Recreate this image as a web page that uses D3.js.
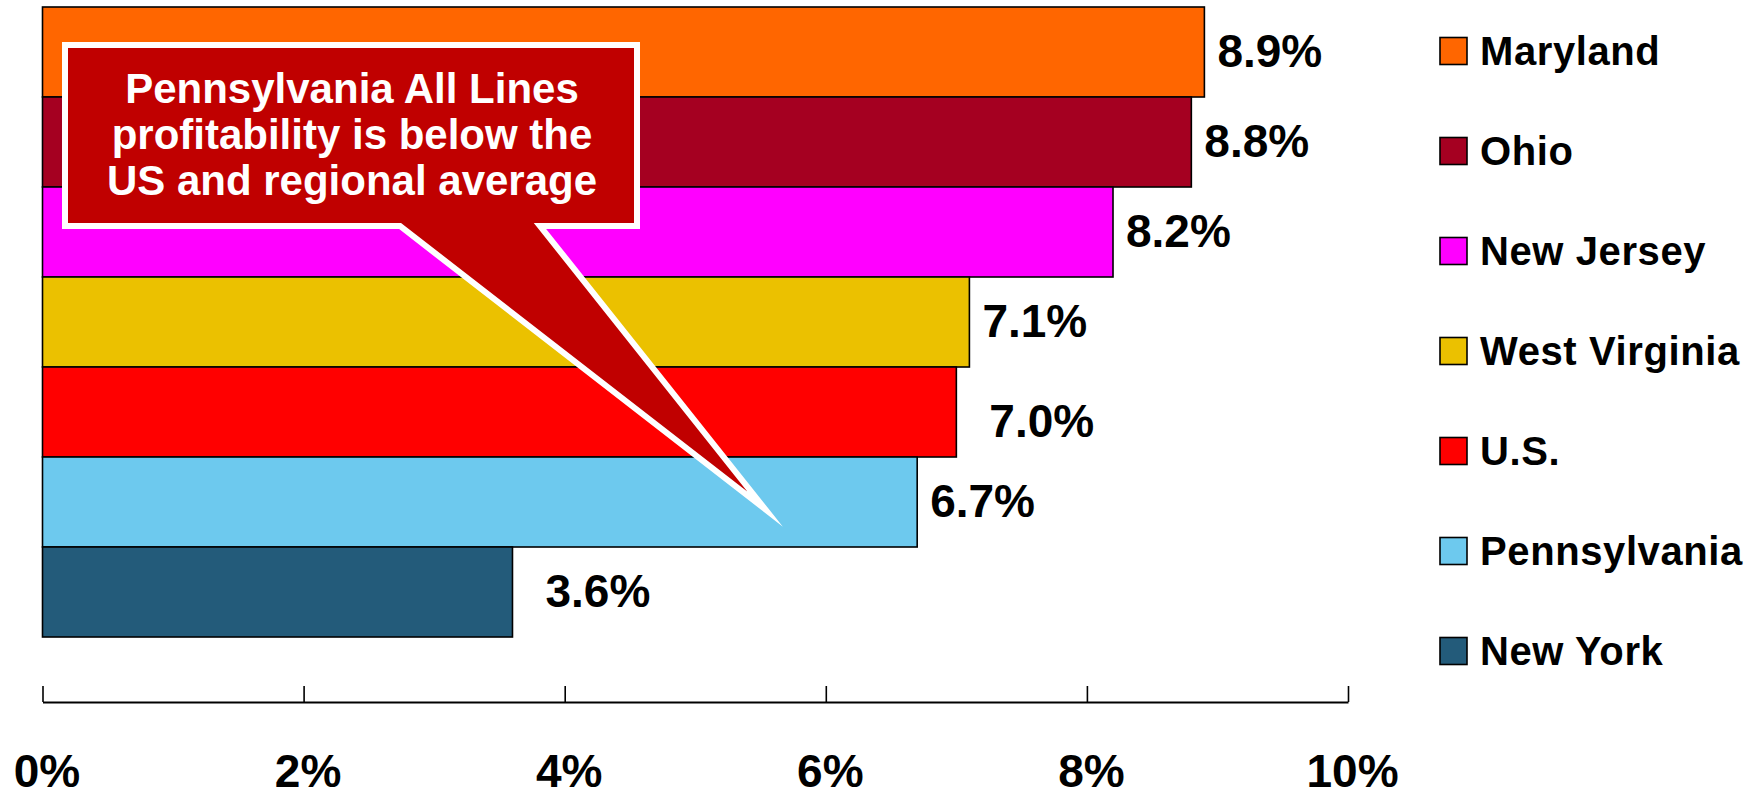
<!DOCTYPE html>
<html>
<head>
<meta charset="utf-8">
<script src="https://cdn.jsdelivr.net/npm/d3@7"></script>
<style>
  html, body { margin: 0; padding: 0; background: #fff; }
  svg { display: block; }
  text { font-family: Arial, "Liberation Sans", sans-serif; font-weight: bold; }
</style>
</head>
<body>
<svg id="chart" width="1762" height="797"></svg>
<script>
// Profitability by state (All Lines), percent
const categories = ["Maryland", "Ohio", "New Jersey", "West Virginia", "U.S.", "Pennsylvania", "New York"];
const values = [8.9, 8.8, 8.2, 7.1, 7.0, 6.7, 3.6];
const colors = ["#FF6600", "#A50021", "#FF00FF", "#EBC100", "#FF0000", "#6DC9EE", "#235B7A"];
const tickValues = [0, 2, 4, 6, 8, 10];
const calloutLines = ["Pennsylvania All Lines", "profitability is below the", "US and regional average"];

// Per-label offsets for the value labels (layout only)
const labelShift = { "U.S.": { dx: 33, dy: 25 }, "New York": { dx: 33, dy: 15 } };
const defaultShift = { dx: 13, dy: 15 };

const svg = d3.select("#chart");

const x = d3.scaleLinear().domain([0, 10]).range([42.5, 1348]);
const y = d3.scaleBand().domain(categories).range([7, 637]).padding(0);
const color = d3.scaleOrdinal().domain(categories).range(colors);

const rows = categories.map((c, i) => ({ name: c, value: values[i] }));

// Bars
svg.append("g").selectAll("rect")
  .data(rows)
  .join("rect")
  .attr("x", x(0))
  .attr("y", d => y(d.name))
  .attr("width", d => x(d.value) - x(0))
  .attr("height", y.bandwidth())
  .attr("fill", d => color(d.name))
  .attr("stroke", "#000")
  .attr("stroke-width", 1.6);

// Value labels
svg.append("g").selectAll("text")
  .data(rows)
  .join("text")
  .attr("x", d => x(d.value) + (labelShift[d.name] || defaultShift).dx)
  .attr("y", d => y(d.name) + y.bandwidth() / 2 + (labelShift[d.name] || defaultShift).dy)
  .attr("font-size", 46)
  .attr("fill", "#000")
  .text(d => d.value.toFixed(1) + "%");

// Value axis with ticks pointing upward
const axis = d3.axisBottom(x)
  .tickValues(tickValues)
  .tickSizeInner(-16)
  .tickSizeOuter(0)
  .tickFormat(d => d + "%");

const gAxis = svg.append("g")
  .attr("transform", "translate(0,702)")
  .call(axis);
gAxis.select(".domain").attr("stroke", "#000").attr("stroke-width", 2);
gAxis.selectAll(".tick line").attr("stroke", "#000").attr("stroke-width", 1.6);
gAxis.selectAll(".tick text")
  .attr("y", 85)
  .attr("dy", 0)
  .attr("dx", 4)
  .attr("font-size", 46)
  .attr("font-family", "Arial, 'Liberation Sans', sans-serif")
  .attr("font-weight", "bold")
  .attr("fill", "#000");

// Callout box with pointer
const callout = d3.path();
callout.moveTo(65, 45);
callout.lineTo(637, 45);
callout.lineTo(637, 226);
callout.lineTo(540, 226);
callout.lineTo(765, 509);
callout.lineTo(400, 226);
callout.lineTo(65, 226);
callout.closePath();

svg.append("path")
  .attr("d", callout.toString())
  .attr("fill", "#C00000")
  .attr("stroke", "#fff")
  .attr("stroke-width", 6)
  .attr("stroke-linejoin", "miter")
  .attr("stroke-miterlimit", 20);

svg.append("g").selectAll("text")
  .data(calloutLines)
  .join("text")
  .attr("x", 352)
  .attr("y", (d, i) => 102.5 + i * 46.3)
  .attr("text-anchor", "middle")
  .attr("font-size", 42)
  .attr("fill", "#fff")
  .text(d => d);

// Legend
const legend = svg.append("g").selectAll("g")
  .data(categories)
  .join("g")
  .attr("transform", (d, i) => `translate(1440, ${51 + i * 100})`);

legend.append("rect")
  .attr("x", 0)
  .attr("y", -13.5)
  .attr("width", 27)
  .attr("height", 27)
  .attr("fill", d => color(d))
  .attr("stroke", "#000")
  .attr("stroke-width", 1.6);

legend.append("text")
  .attr("x", 40)
  .attr("y", 14)
  .attr("font-size", 40)
  .attr("letter-spacing", 0.6)
  .attr("fill", "#000")
  .text(d => d);
</script>
</body>
</html>
